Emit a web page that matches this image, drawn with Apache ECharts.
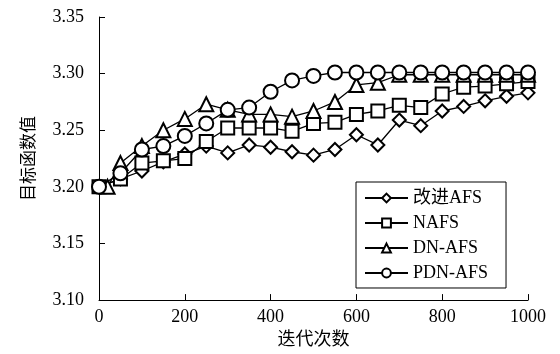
<!DOCTYPE html>
<html>
<head>
<meta charset="utf-8">
<script src="https://cdn.jsdelivr.net/npm/echarts@6/dist/echarts.min.js"></script>
<style>html,body{margin:0;padding:0;background:#fff;}#c{width:560px;height:354px;}</style>
</head>
<body>
<div id="c"></div>
<script>
var seriesNames = ['改进AFS', 'NAFS', 'DN-AFS', 'PDN-AFS'];
var iterX = [0,50,100,150,200,250,300,350,400,450,500,550,600,650,700,750,800,850,900,950,1000];
var triX  = [20,50,100,150,200,250,300,350,400,450,500,550,600,650,700,750,800,850,900,950,1000];
var afsVals  = [3.200,3.207,3.214,3.222,3.229,3.236,3.230,3.237,3.235,3.231,3.228,3.233,3.246,3.237,3.259,3.254,3.267,3.271,3.276,3.280,3.283];
var nafsVals = [3.200,3.207,3.221,3.223,3.225,3.240,3.252,3.252,3.252,3.249,3.256,3.257,3.264,3.267,3.272,3.270,3.282,3.288,3.289,3.291,3.293];
var dnVals   = [3.200,3.221,3.236,3.250,3.260,3.273,3.268,3.264,3.264,3.262,3.267,3.275,3.290,3.292,3.299,3.299,3.299,3.299,3.299,3.299,3.299];
var pdnVals  = [3.200,3.212,3.233,3.236,3.245,3.256,3.268,3.270,3.284,3.294,3.298,3.301,3.301,3.301,3.301,3.301,3.301,3.301,3.301,3.301,3.301];
var yTicks = ['3.10','3.15','3.20','3.25','3.30','3.35'];
var xTicks = ['0','200','400','600','800','1000'];

function pairs(xs, ys){ return xs.map(function(x,i){ return [x, ys[i]]; }); }

var FONT = '"Liberation Serif", "Noto Sans CJK SC", serif';
var symbols = ['emptyDiamond','emptyRect','emptyTriangle','emptyCircle'];
var sizes = [13, 13, 14, 14];
var datas = [pairs(iterX, afsVals), pairs(iterX, nafsVals), pairs(triX, dnVals), pairs(iterX, pdnVals)];

var chart = echarts.init(document.getElementById('c'), null, {renderer: 'canvas'});
chart.setOption({
  animation: false,
  backgroundColor: '#fff',
  grid: {left: 99, right: 32, top: 17, bottom: 52, containLabel: false},
  xAxis: {
    type: 'value', min: 0, max: 1000, interval: 200,
    name: '迭代次数', nameLocation: 'middle', nameGap: 30,
    nameTextStyle: {fontFamily: FONT, fontSize: 18, color: '#000'},
    axisLine: {lineStyle: {color: '#000', width: 1}},
    axisTick: {inside: true, length: 6, lineStyle: {color: '#000'}},
    axisLabel: {fontFamily: FONT, fontSize: 18, color: '#000', margin: 8,
      formatter: function(v){ var s = String(Math.round(v)); return xTicks.indexOf(s) >= 0 ? s : ''; }},
    splitLine: {show: false}
  },
  yAxis: {
    type: 'value', min: 3.10, max: 3.35, interval: 0.05,
    name: '目标函数值', nameLocation: 'middle', nameGap: 61,
    nameTextStyle: {fontFamily: FONT, fontSize: 17, color: '#000'},
    axisLine: {show: true, lineStyle: {color: '#000', width: 1}},
    axisTick: {show: true, inside: true, length: 6, lineStyle: {color: '#000'}},
    axisLabel: {fontFamily: FONT, fontSize: 18, color: '#000', margin: 15,
      formatter: function(v){ var s = v.toFixed(2); return yTicks.indexOf(s) >= 0 ? s : ''; }},
    splitLine: {show: false}
  },
  legend: {
    orient: 'vertical', left: 356, top: 182,
    backgroundColor: '#fff', borderColor: '#000', borderWidth: 1,
    padding: [7, 18, 6, 8], itemGap: 7, itemWidth: 43, itemHeight: 11,
    textStyle: {fontFamily: FONT, fontSize: 18, color: '#000'},
    data: seriesNames
  },
  series: seriesNames.map(function(n, i){
    return {
      name: n, type: 'line', data: datas[i],
      symbol: symbols[i], symbolSize: sizes[i],
      showAllSymbol: true,
      lineStyle: {color: '#000', width: 1.3},
      itemStyle: {color: '#000', borderColor: '#000', borderWidth: 1.3},
      z: 2 + i
    };
  })
});
</script>
</body>
</html>
